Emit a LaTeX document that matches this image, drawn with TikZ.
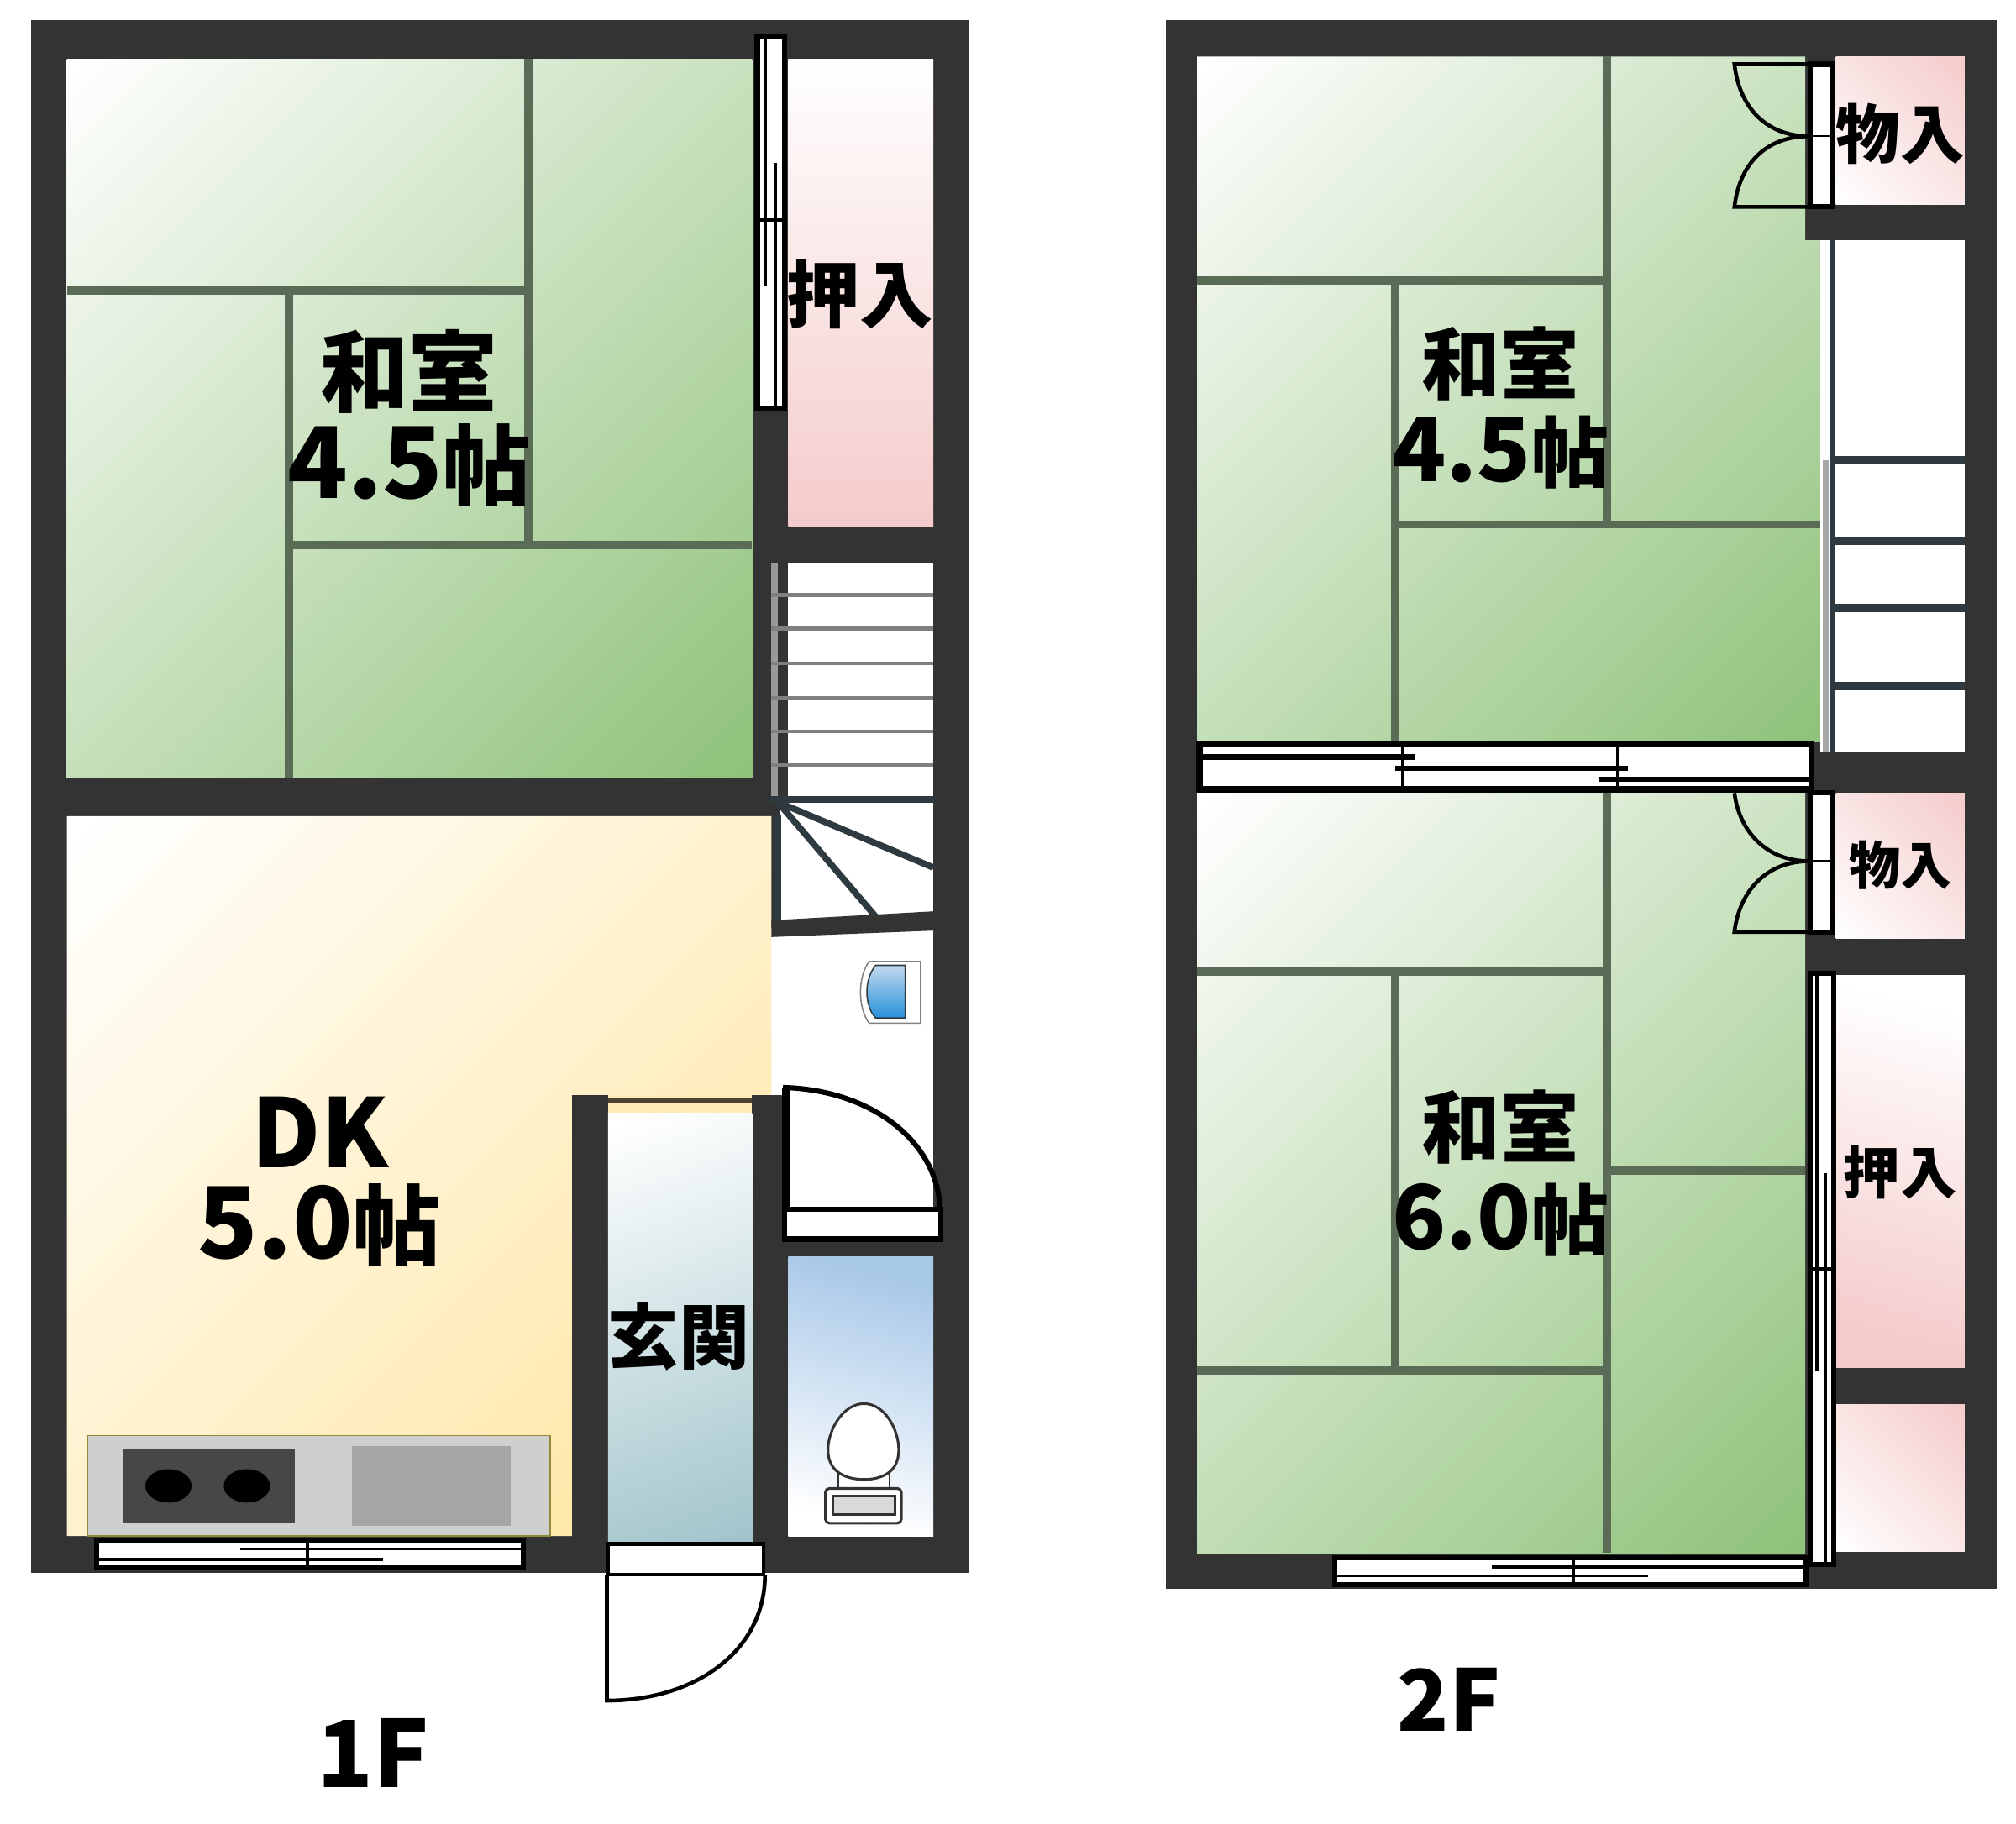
\documentclass[tikz,border=0pt]{standalone}
\usepackage{fontspec}
\setmainfont{Noto Sans CJK JP}
\definecolor{wall}{HTML}{333333}
\definecolor{tatami}{HTML}{8FC27A}
\definecolor{tatamiline}{HTML}{5A6B56}
\definecolor{floorkit}{HTML}{FFE49C}
\definecolor{closet}{HTML}{F5CBCB}
\definecolor{hallfloor}{HTML}{A3C6CC}
\definecolor{wcfloor}{HTML}{A8C8E8}
\definecolor{stairline}{HTML}{2F3A40}
\pgfdeclareverticalshading{matshade}{100bp}{color(0bp)=(tatami); color(15bp)=(tatami); color(85bp)=(white); color(100bp)=(white)}
\pgfdeclareverticalshading{kitshade}{100bp}{color(0bp)=(floorkit); color(15bp)=(floorkit); color(85bp)=(white); color(100bp)=(white)}
\pgfdeclareverticalshading{sideshade}{100bp}{color(0bp)=(white); color(15bp)=(white); color(85bp)=(closet); color(100bp)=(closet)}
\pgfdeclareverticalshading{hallshade}{100bp}{color(0bp)=(hallfloor); color(20bp)=(hallfloor); color(80bp)=(white); color(100bp)=(white)}
\newcommand{\jpsize}[1]{\fontsize{#1}{#1}\selectfont}
\begin{document}
\begin{tikzpicture}[x=1pt,y=-1pt,
  wallbox/.style={fill=wall},
  matroom/.style={shading=matshade,shading angle=45},
  matline/.style={draw=tatamiline,line width=6.5pt},
  closetup/.style={top color=white,bottom color=closet},
  closetside/.style={shading=sideshade,shading angle=-45},
  winframe/.style={draw=black,line width=4pt,fill=white},
  winrail/.style={draw=black,line width=2.5pt},
  tread/.style={draw=stairline,line width=5pt},
  doorline/.style={draw=black,line width=3pt},
  roomtext/.style={font=\bfseries,inner sep=0pt,text=black}]
 \useasboundingbox[fill=white] (0,0) rectangle (1568,1419);

 % 1F
 \fill[wallbox] (24,16) rectangle (753,1224);
 \shade[matroom] (52,46) rectangle (585,605);
 \shade[closetup] (613,46) rectangle (726,409);
 \fill[white] (613,438) rectangle (726,621);
 \fill[white] (606,621) rectangle (726,730);
 \fill[white] (600,722) rectangle (726,852);
 \fill[white] (613,852) rectangle (726,940);
 \shade[shading=kitshade,shading angle=45]
  (52,635) -- (600,635) -- (600,866) -- (445,866) -- (445,1195) -- (52,1195) -- cycle;
 \fill[wallbox] (445,852) rectangle (473,1224);
 \fill[wallbox] (585,852) rectangle (613,1224);
 \fill[floorkit!75!white] (473,852) rectangle (585,866);
 \draw[draw=wall!80!brown,line width=3pt] (473,856) -- (585,856);
 \shade[shading=hallshade,shading angle=20] (473,866) rectangle (585,1200);
 \shade[top color=wcfloor,bottom color=white,shading angle=-15] (613,978) rectangle (726,1195);

 \draw[matline] (411,46) -- (411,424);
 \draw[matline] (52,226) -- (411,226);
 \draw[matline] (225,226) -- (225,605);
 \draw[matline] (225,424) -- (585,424);

 % stairs 1F
 \draw[draw=gray!80,line width=5pt] (602.5,438) -- (602.5,621);
 \foreach \ty in {463,489,516,543,569,595}
  \draw[draw=gray,line width=3pt] (600,\ty) -- (726,\ty);
 \draw[tread] (600,622) -- (726,622);
 \draw[tread] (605,634) -- (605,720);
 \draw[tread] (605,624) -- (726,675);
 \draw[tread] (605,624) -- (681,713);
 \fill[wallbox] (600,716) -- (726,709) -- (726,724) -- (600,729) -- cycle;

 % basin
 \draw[draw=gray,fill=white,line width=1pt] (716,748) -- (676,748) .. controls (667,760) and (667,784) .. (676,796) -- (716,796) -- cycle;
 \shade[top color=wcfloor!70!white,bottom color=blue!40!cyan!70!gray,draw=stairline,line width=1pt]
  (704,751) -- (681,751) .. controls (672,762) and (672,782) .. (681,792) -- (704,792) -- cycle;

 % kitchen
 \fill[draw=olive!60!gray,fill=gray!38,line width=1pt] (68,1117) rectangle (428,1195);
 \fill[fill=wall!90!white] (96,1127) rectangle (229,1185);
 \fill[black] (131,1156) ellipse (18 and 13);
 \fill[black] (192,1156) ellipse (18 and 13);
 \fill[fill=gray!70] (274,1125) rectangle (397,1187);

 % toilet
 \draw[draw=wall,fill=white,line width=1.5pt] (652,1146) rectangle (692,1162);
 \draw[draw=wall,fill=white,line width=2pt] (672,1092)
  .. controls (688,1092) and (699,1112) .. (699,1128)
  .. controls (699,1146) and (685,1151) .. (672,1151)
  .. controls (659,1151) and (644,1146) .. (644,1128)
  .. controls (644,1112) and (656,1092) .. (672,1092) -- cycle;
 \draw[draw=wall,fill=white,line width=2pt,rounded corners=3pt] (642,1158) rectangle (701,1185);
 \draw[draw=wall,fill=gray!30,line width=2pt] (648,1164) rectangle (696,1178);

 % windows 1F
 \draw[winframe] (589,28) rectangle (610,318);
 \draw[winrail] (595,28) -- (595,223);
 \draw[winrail] (603,127) -- (603,318);
 \draw[winrail] (589,171) -- (610,171);
 \draw[winframe] (75,1198) rectangle (407,1220);
 \draw[winrail] (239,1198) -- (239,1220);
 \draw[winrail] (187,1205) -- (407,1205);
 \draw[winrail] (75,1213) -- (298,1213);

 % doors 1F
 \draw[winframe] (610,941) rectangle (732,964);
 \fill[black] (608,846) rectangle (614,941);
 \draw[draw=black,line width=4pt] (609,846) .. controls (680,848) and (730,890) .. (731,941);
 \draw[winframe,line width=3pt] (473,1201) rectangle (594,1225);
 \draw[doorline] (472,1225) -- (472,1323) .. controls (540,1323) and (595,1285) .. (595,1225);

 % 2F
 \fill[wallbox] (907,16) rectangle (1553,1236);
 \shade[matroom] (931,44) -- (1404,44) -- (1404,187) -- (1416,187) -- (1416,577) -- (931,577) -- cycle;
 \shade[matroom] (931,617) rectangle (1404,1208);
 \shade[closetside] (1428,44) rectangle (1528,159);
 \shade[closetside] (1428,617) rectangle (1528,730);
 \shade[closetup,shading angle=-15] (1428,759) rectangle (1528,1064);
 \shade[closetside] (1428,1093) rectangle (1528,1207);
 \fill[white] (1416,187) rectangle (1528,585);
 \fill[wallbox] (1410,585) rectangle (1553,617);

 \draw[matline] (1250,44) -- (1250,408);
 \draw[matline] (931,218) -- (1250,218);
 \draw[matline] (1085,218) -- (1085,577);
 \draw[matline] (1085,408) -- (1416,408);
 \draw[matline] (1250,617) -- (1250,1208);
 \draw[matline] (931,756) -- (1250,756);
 \draw[matline] (1085,756) -- (1085,1066);
 \draw[matline] (931,1066) -- (1250,1066);
 \draw[matline] (1250,911) -- (1404,911);

 % stairs 2F
 \draw[draw=gray!70,line width=4pt] (1420,358) -- (1420,585);
 \draw[tread,line width=4pt] (1425,187) -- (1425,585);
 \foreach \ty in {358,421,473,534}
  \draw[tread,line width=6.5pt] (1423,\ty) -- (1528,\ty);

 % closet doors 2F
 \draw[doorline] (1407,50) -- (1349,50) .. controls (1353,85) and (1375,106) .. (1407,106);
 \draw[doorline] (1407,161) -- (1349,161) .. controls (1353,126) and (1375,106) .. (1407,106);
 \draw[winframe] (1408,50) rectangle (1425,161);
 \draw[draw=black,line width=1.5pt] (1408,106) -- (1425,106);
 \draw[doorline] (1349,617) .. controls (1353,648) and (1375,670) .. (1407,670);
 \draw[doorline] (1407,725) -- (1349,725) .. controls (1353,692) and (1375,670) .. (1407,670);
 \draw[winframe] (1408,617) rectangle (1425,725);
 \draw[draw=black,line width=1.5pt] (1408,670) -- (1425,670);

 % windows 2F
 \draw[winframe,line width=5pt] (933,579) rectangle (1409,614);
 \draw[winrail,line width=4pt] (933,589) -- (1100,589);
 \draw[winrail,line width=4pt] (1085,598) -- (1266,598);
 \draw[winrail,line width=4pt] (1243,606) -- (1409,606);
 \draw[winrail] (1091,579) -- (1091,614);
 \draw[winrail] (1258,579) -- (1258,614);
 \draw[winframe] (1408,757) rectangle (1426,1217);
 \draw[winrail] (1413,757) -- (1413,1067);
 \draw[winrail] (1420,913) -- (1420,1217);
 \draw[winrail] (1408,987) -- (1426,987);
 \draw[winframe] (1038,1212) rectangle (1405,1233);
 \draw[winrail] (1224,1212) -- (1224,1233);
 \draw[winrail] (1160,1219) -- (1405,1219);
 \draw[winrail] (1038,1226) -- (1282,1226);

 % labels 1F
 \node[roomtext] (washitsua) at (318,289) {\jpsize{69}和室};
 \node[roomtext] (sizea) at (318,362) {\jpsize{77}4.5\jpsize{68}帖};
 \node[roomtext] (oshiirea) at (669,229) {\jpsize{57}押入};
 \node[roomtext] (dk) at (249,881) {\jpsize{74}DK};
 \node[roomtext] (sizedk) at (248,953) {\jpsize{77}5.0\jpsize{68}帖};
 \node[roomtext] (genkan) at (528,1040) {\jpsize{55}玄関};
 \node[roomtext] (floora) at (290,1364) {\jpsize{72}1F};

 % labels 2F
 \node[roomtext] (washitsub) at (1167,283) {\jpsize{61}和室};
 \node[roomtext] (sizeb) at (1167,352) {\jpsize{69}4.5\jpsize{60}帖};
 \node[roomtext] (monoirea) at (1478,104) {\jpsize{50}物入};
 \node[roomtext] (monoireb) at (1478,673) {\jpsize{40}物入};
 \node[roomtext] (washitsuc) at (1167,877) {\jpsize{61}和室};
 \node[roomtext] (sizec) at (1167,949) {\jpsize{69}6.0\jpsize{60}帖};
 \node[roomtext] (oshiireb) at (1478,912) {\jpsize{44}押入};
 \node[roomtext] (floorb) at (1127,1322) {\jpsize{66}2F};
\end{tikzpicture}
\end{document}
